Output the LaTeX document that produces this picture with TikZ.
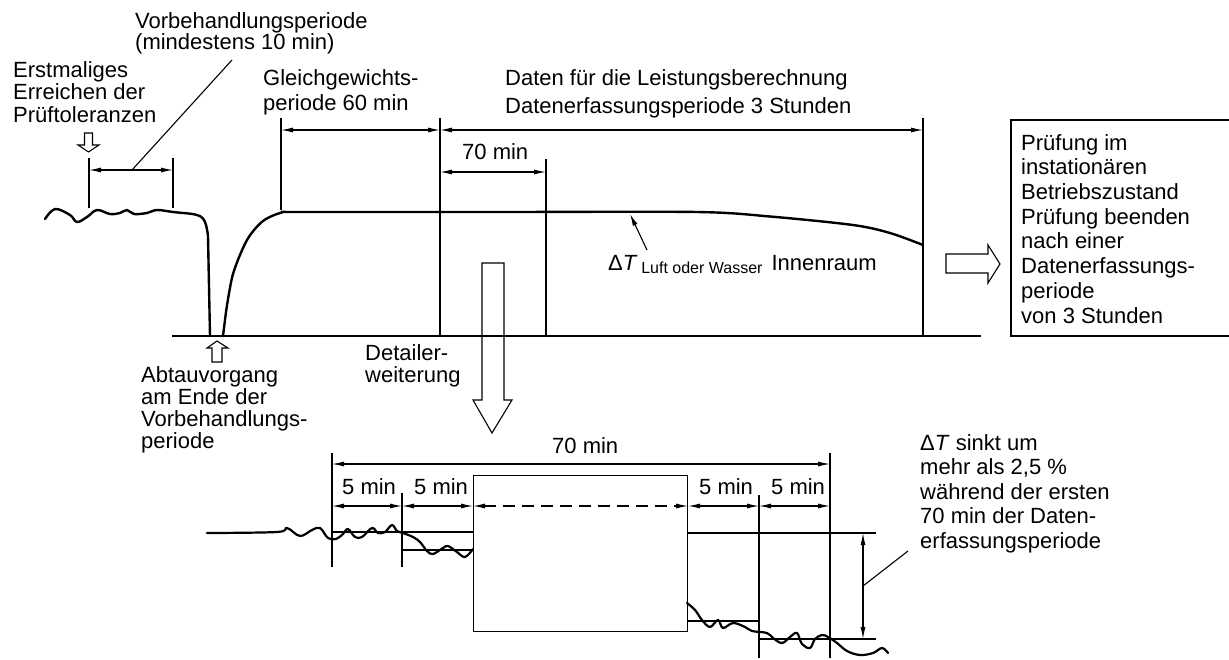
\documentclass[tikz,border=0pt]{standalone}
\usepackage{fontspec}
\setmainfont{Liberation Sans}
\usetikzlibrary{arrows.meta}
\newcommand\lbl{\fontsize{22}{22}\selectfont}
\newcommand\sublbl{\fontsize{16}{16}\selectfont}

\begin{document}
\begin{tikzpicture}[x=1pt,y=-1pt,
    thinl/.style={line width=1.1pt},
    curve/.style={line width=2.4pt,line join=round,line cap=round},
    dim/.style={line width=1.1pt,{Latex[length=12pt,width=5pt]}-{Latex[length=12pt,width=5pt]}},
    lead/.style={line width=1.1pt,-{Latex[length=12pt,width=5pt]}},
    txt/.style={anchor=north west,inner sep=0pt,align=left,font=\lbl},
    btxt/.style={anchor=base west,inner sep=0pt,font=\lbl},
    hollow/.style={line width=1.1pt,line join=miter}]
  \useasboundingbox (0,0) rectangle (1229,659);

  % time axis and extension lines (upper chart)
  \coordinate (ax0) at (172,336);
  \coordinate (ax1) at (981,336);
  \draw[line width=1.4pt] (ax0) -- (ax1);
  \foreach \n/\x/\ya/\yb in {e1/89/158/208, e2/173/158/208, e3/281/118/210,
      e4/440/118/336, e5/546/159/336, e6/923/118/336}{
    \coordinate (\n t) at (\x,\ya);
    \coordinate (\n b) at (\x,\yb);
    \draw[thinl] (\n t) -- (\n b);
  }
  \draw[dim] (e1t |- 0,170) -- (e2t |- 0,170);
  \draw[dim] (e3t |- 0,130) -- (e4t |- 0,130);
  \draw[dim] (e4t |- 0,130) -- (e6t |- 0,130);
  \draw[dim] (e4t |- 0,172) -- (e5t |- 0,172);

  % temperature curve
  \draw[curve] plot[smooth,tension=0.6] coordinates {(45,219) (55,209) (70,215) (77,222)
    (87,217) (97,210) (110,214) (120,213) (127,210) (134,214) (147,213) (157,210)
    (173,212) (197,215) (205,222) (208,236)} -- (210,336);
  \draw[curve] (223,336) -- (226,312) plot[smooth,tension=0.5] coordinates {(226,312)
    (233,274) (247,240) (263,221) (282,212.5) (300,212) (500,212) (697,212)
    (770,216.5) (853,225) (890,233) (923,245)};

  % labels upper chart
  \node[txt,font=\fontsize{22}{21.5}\selectfont] (vorb) at (135,12)
    {Vorbehandlungsperiode\\(mindestens 10 min)};
  \coordinate (vorbfoot) at (232,60);
  \draw[thinl] (vorbfoot) -- (132,170);
  \node[txt,font=\fontsize{22}{22.5}\selectfont] (erst) at (13,61)
    {Erstmaliges\\Erreichen der\\Prüftoleranzen};
  \node[txt,font=\fontsize{22}{25}\selectfont] (gleich) at (263,69)
    {Gleichgewichts-\\periode 60 min};
  \node[txt,font=\fontsize{22}{28}\selectfont] (daten) at (505,69)
    {Daten für die Leistungsberechnung\\Datenerfassungsperiode 3 Stunden};
  \node[btxt] (t70) at (462,159) {70 min};
  \node[btxt] (dT) at (608,270)
    {Δ\textit{T}\,\raisebox{-3pt}{\sublbl Luft oder Wasser}\hspace{9pt}Innenraum};
  \coordinate (dTpin) at (630,214);
  \draw[lead] (647,250) -- (dTpin);
  \node[txt] (abtau) at (141,366)
    {Abtauvorgang\\am Ende der\\Vorbehandlungs-\\periode};
  \node[txt] (detail) at (365,344) {Detailer-\\weiterung};

  % hollow arrows
  \draw[hollow] (84.5,133) -- (92.5,133) -- (92.5,145) -- (99,145) -- (88.5,152)
    -- (78,145) -- (84.5,145) -- cycle;
  \draw[hollow] (217,341) -- (228,348) -- (222,348) -- (222,362) -- (212,362)
    -- (212,348) -- (207,348) -- cycle;
  \draw[hollow] (482,263) -- (504,263) -- (504,400) -- (512,400) -- (492,433)
    -- (473,400) -- (482,400) -- cycle;
  \draw[hollow] (946,254) -- (988,254) -- (988,245) -- (1000,264) -- (988,283)
    -- (988,273) -- (946,273) -- cycle;

  % result box (runs off the right edge)
  \draw[thinl] (1229,120) -- (1011,120) -- (1011,336) -- (1229,336);
  \node[txt,font=\fontsize{22}{24.7}\selectfont] (boxtxt) at (1021,134)
    {Prüfung im\\instationären\\Betriebszustand\\Prüfung beenden\\nach einer\\Datenerfassungs-\\periode\\von 3 Stunden};

  % detail (lower chart)
  \node[draw,thinl,anchor=north west,inner sep=0pt,minimum width=214pt,
    minimum height=156pt] (zoombox) at (473,475) {};
  \foreach \n/\x/\ya/\yb in {d1/332/453/567, d2/402/493/567, d3/759/495/658,
      d4/830/453/658}{
    \coordinate (\n t) at (\x,\ya);
    \coordinate (\n b) at (\x,\yb);
    \draw[thinl] (\n t) -- (\n b);
  }
  \draw[dim] (d1t |- 0,464) -- (d4t |- 0,464);
  \draw[dim] (d1t |- 0,506) -- (d2t |- 0,506);
  \draw[dim] (d2t |- 0,506) -- (zoombox.west |- 0,506);
  \draw[dim,dash pattern=on 12pt off 7pt] (zoombox.west |- 0,506) -- (zoombox.east |- 0,506);
  \draw[dim] (zoombox.east |- 0,506) -- (d3t |- 0,506);
  \draw[dim] (d3t |- 0,506) -- (d4t |- 0,506);
  \node[btxt] (b70) at (552,453) {70 min};
  \foreach \n/\x in {m1/342, m2/414, m3/699, m4/771}
    \node[btxt] (\n) at (\x,494) {5 min};

  % levels and the drop
  \draw[thinl] (d1t |- 0,532) -- (zoombox.west |- 0,532);
  \draw[thinl] (d2t |- 0,550) -- (zoombox.west |- 0,550);
  \coordinate (lvtop) at (876,533);
  \coordinate (lvbot) at (876,639);
  \draw[thinl] (zoombox.east |- lvtop) -- (lvtop);
  \draw[thinl] (zoombox.east |- 0,621) -- (d3t |- 0,621);
  \draw[thinl] (d3t |- lvbot) -- (lvbot);
  \draw[dim] (863,533) -- (863,639);
  \coordinate (sinkfoot) at (908,551);
  \draw[thinl] (863,586) -- (sinkfoot);
  \node[txt,font=\fontsize{22}{24.5}\selectfont] (sinkt) at (920,434)
    {Δ\textit{T} sinkt um\\mehr als 2,5 \%\\während der ersten\\70 min der Daten-\\erfassungsperiode};

  \draw[curve,line width=2.2pt] plot[smooth,tension=0.6] coordinates {(207,533) (277,532)
    (287,528) (300,536) (312,530) (320,528) (328,538) (336,539) (343,534) (348,529)
    (355,537) (362,537) (372,528) (378,533) (385,532) (392,525) (397,531) (403,533)
    (413,537) (420,542) (427,551) (433,554) (443,548) (448,546) (457,552) (465,557)
    (473,549)};
  \draw[curve,line width=2.2pt] plot[smooth,tension=0.6] coordinates {(687,603) (695,610)
    (702,620) (710,627) (718,620) (723,628) (733,623) (745,627) (752,631) (767,633)
    (773,638) (782,643) (790,637) (797,633) (802,644) (810,648) (815,639) (822,635)
    (828,637) (837,643) (847,651) (860,655) (873,653) (882,648) (888,653)};
\end{tikzpicture}
\end{document}
